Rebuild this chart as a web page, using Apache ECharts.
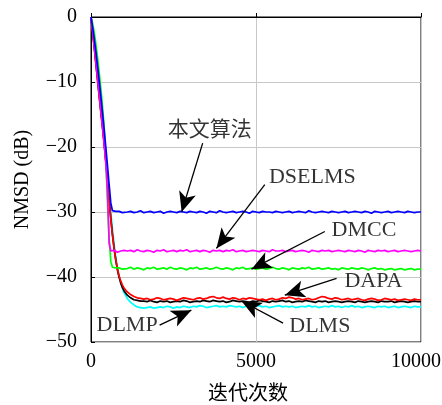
<!DOCTYPE html>
<html><head><meta charset="utf-8">
<script src="https://cdn.jsdelivr.net/npm/echarts@6/dist/echarts.min.js"></script>
<style>html,body{margin:0;padding:0;background:#fff}#c{width:442px;height:405px}</style>
</head><body><div id="c"></div>
<script>
var iters = [0,50,100,150,200,250,300,350,400,450,500,550,600,650,700,750,800,850,900,950,1000,
1100,1200,1300,1400,1500,1600,1700,1800,1900,2000,2100,2200,2300,2400,2500,2600,2700,2800,2900,3000,
3100,3200,3300,3400,3500,3600,3700,3800,3900,4000,4100,4200,4300,4400,4500,4600,4700,4800,4900,5000,
5100,5200,5300,5400,5500,5600,5700,5800,5900,6000,6100,6200,6300,6400,6500,6600,6700,6800,6900,7000,
7100,7200,7300,7400,7500,7600,7700,7800,7900,8000,8100,8200,8300,8400,8500,8600,8700,8800,8900,9000,
9100,9200,9300,9400,9500,9600,9700,9800,9900,10000];

var proposed = [0,-1.6,-3.4,-5.4,-7.6,-9.9,-12.3,-14.8,-17.4,-20.1,-22.9,-25.8,-28.6,-29.8,-30.0,-29.9,-30.1,-29.9,-30.0,-30.1,-29.9,
-30.0,-29.9,-30.1,-30.0,-29.8,-30.1,-30.0,-29.9,-30.1,-30.0,
-29.9,-30.2,-30.0,-29.9,-30.0,-30.1,-29.9,-30.0,-30.1,-29.9,
-30.0,-30.1,-29.9,-30.0,-30.2,-29.9,-30.0,-30.1,-29.8,-30.0,
-30.1,-30.0,-29.9,-30.1,-30.0,-29.9,-30.0,-30.2,-29.9,-30.0,
-30.1,-29.9,-30.0,-30.0,-30.1,-29.9,-30.0,-30.1,-30.0,-29.9,
-30.1,-30.0,-29.9,-30.0,-30.1,-29.8,-30.0,-30.1,-30.0,-29.9,
-30.0,-30.1,-29.9,-30.0,-30.1,-30.0,-29.9,-30.1,-30.0,-29.9,
-30.0,-30.1,-29.9,-30.0,-30.2,-29.9,-30.0,-30.1,-30.0,-29.9,
-30.1,-30.0,-29.9,-30.0,-30.1,-29.9,-30.0,-30.1,-30.0,-30.0];

var dselms = [0,-2.1,-4.4,-6.8,-9.3,-11.8,-14.3,-16.9,-19.5,-22.5,-27.0,-34.8,-36.0,-36.1,-35.9,-36.0,-36.2,-35.9,-36.0,-36.1,-35.9,
-36.0,-35.9,-36.1,-35.8,-36.0,-36.1,-35.9,-36.0,-36.2,-35.9,
-36.0,-35.8,-36.1,-36.0,-35.9,-36.1,-35.9,-36.0,-35.8,-36.1,
-36.0,-35.9,-36.1,-35.9,-36.0,-36.2,-35.9,-36.0,-35.9,-36.1,
-35.9,-36.0,-35.8,-36.1,-36.0,-35.9,-36.1,-36.0,-35.9,-36.0,
-36.1,-35.9,-36.0,-36.1,-35.8,-36.0,-36.0,-35.9,-36.1,-36.0,
-35.9,-36.1,-36.0,-35.9,-36.0,-36.2,-35.9,-36.0,-36.1,-35.9,
-36.0,-35.9,-36.1,-36.0,-35.9,-36.0,-36.1,-35.9,-36.0,-36.1,
-35.9,-36.0,-36.2,-35.9,-36.0,-36.1,-35.9,-36.0,-35.9,-36.1,
-36.0,-35.9,-36.1,-36.0,-35.9,-36.0,-36.1,-36.0,-35.9,-36.0];

var dmcc = [0,-1.0,-2.4,-4.2,-6.3,-8.6,-11.1,-13.8,-17.0,-22.0,-28.5,-34.0,-37.6,-38.5,-38.7,-38.6,-38.8,-38.6,-38.7,-38.8,-38.6,
-38.7,-38.5,-38.8,-38.6,-38.7,-38.9,-38.6,-38.7,-38.5,-38.8,
-38.7,-38.6,-38.8,-38.5,-38.7,-38.8,-38.6,-38.7,-38.9,-38.6,
-38.7,-38.5,-38.8,-38.7,-38.6,-38.8,-38.7,-38.5,-38.7,-38.8,
-38.6,-38.7,-38.9,-38.6,-38.7,-38.5,-38.8,-38.7,-38.6,-38.8,
-38.7,-38.6,-38.8,-38.7,-38.5,-38.7,-38.8,-38.6,-38.7,-38.9,
-38.6,-38.7,-38.8,-38.6,-38.7,-38.5,-38.8,-38.7,-38.6,-38.8,
-38.7,-38.6,-38.8,-38.7,-38.9,-38.6,-38.7,-38.8,-38.6,-38.7,
-38.8,-38.6,-38.7,-38.9,-38.7,-38.6,-38.8,-38.7,-38.9,-38.8,
-38.7,-38.9,-38.8,-38.7,-38.9,-38.8,-38.7,-38.9,-38.8,-38.8];

var dapa = [0,-2.4,-4.8,-7.3,-9.8,-12.3,-14.7,-17.1,-19.6,-22.3,-25.2,-28.3,-31.1,-33.5,-35.6,-37.3,-38.7,-39.8,-40.6,-41.2,-41.7,
-42.3,-42.7,-43.0,-43.2,-43.3,-43.4,-43.3,-43.5,-43.4,-43.2,
-43.3,-43.5,-43.4,-43.3,-43.4,-43.6,-43.4,-43.2,-43.3,-43.4,
-43.5,-43.3,-43.2,-43.4,-43.3,-43.1,-43.0,-43.2,-43.3,-43.1,
-43.3,-43.4,-43.2,-43.3,-43.5,-43.3,-43.4,-43.2,-43.3,-43.4,
-43.5,-43.4,-43.6,-43.4,-43.3,-43.5,-43.4,-43.2,-43.3,-43.1,
-43.2,-43.4,-43.3,-43.5,-43.4,-43.3,-43.5,-43.4,-43.2,-43.0,
-43.1,-43.3,-43.4,-43.2,-43.3,-43.5,-43.4,-43.3,-43.5,-43.4,
-43.3,-43.5,-43.6,-43.4,-43.3,-43.4,-43.6,-43.5,-43.3,-43.4,
-43.5,-43.4,-43.6,-43.5,-43.4,-43.5,-43.6,-43.4,-43.5,-43.5];

var dlms = [0,-2.3,-4.7,-7.2,-9.7,-12.2,-14.6,-17.0,-19.5,-22.2,-25.1,-28.2,-31.0,-33.5,-35.6,-37.4,-38.9,-40.0,-40.9,-41.6,-42.1,
-42.8,-43.2,-43.5,-43.6,-43.7,-43.7,-43.8,-43.6,-43.8,-43.9,
-43.7,-43.8,-43.7,-43.9,-43.8,-43.7,-43.8,-43.6,-43.7,-43.9,
-43.8,-43.7,-43.8,-43.6,-43.7,-43.8,-43.6,-43.7,-43.8,-43.7,
-43.9,-43.8,-43.6,-43.7,-43.8,-43.7,-43.8,-43.9,-43.7,-43.8,
-43.6,-43.7,-43.8,-43.9,-43.7,-43.8,-43.7,-43.6,-43.8,-43.7,
-43.9,-43.8,-43.7,-43.8,-43.6,-43.7,-43.8,-43.9,-43.7,-43.8,
-43.7,-43.9,-43.8,-43.7,-43.8,-43.9,-43.8,-43.7,-43.8,-43.9,
-43.7,-43.8,-43.9,-43.8,-43.7,-43.8,-43.9,-43.7,-43.8,-43.8,
-43.7,-43.9,-43.8,-43.7,-43.8,-43.9,-43.8,-43.7,-43.8,-43.8];

var dlmp = [0,-2.0,-4.2,-6.6,-9.0,-11.5,-14.0,-16.5,-19.0,-21.6,-24.3,-27.2,-30.0,-32.6,-34.9,-36.9,-38.6,-39.9,-40.9,-41.7,-42.4,
-43.3,-43.9,-44.3,-44.6,-44.7,-44.8,-44.7,-44.6,-44.8,-44.7,
-44.6,-44.7,-44.5,-44.6,-44.8,-44.6,-44.7,-44.5,-44.6,-44.7,
-44.5,-44.6,-44.4,-44.5,-44.7,-44.6,-44.5,-44.4,-44.6,-44.5,
-44.6,-44.4,-44.5,-44.6,-44.5,-44.7,-44.5,-44.4,-44.6,-44.5,
-44.4,-44.6,-44.5,-44.7,-44.6,-44.5,-44.4,-44.6,-44.5,-44.6,
-44.5,-44.7,-44.6,-44.5,-44.6,-44.4,-44.6,-44.5,-44.7,-44.6,
-44.5,-44.6,-44.4,-44.6,-44.5,-44.7,-44.5,-44.6,-44.4,-44.6,
-44.5,-44.7,-44.6,-44.5,-44.6,-44.7,-44.5,-44.6,-44.5,-44.7,
-44.6,-44.5,-44.7,-44.6,-44.5,-44.6,-44.7,-44.5,-44.6,-44.6];

var xTicks = [0, 5000, 10000];
var yTicks = [0, -10, -20, -30, -40, -50];

// annotations: label text, label position, arrow start, arrow tip (data coords)
var annText  = ['本文算法', 'DSELMS', 'DMCC', 'DAPA', 'DLMS', 'DLMP'];
var annPos   = [[3596,-17.4],[6707,-24.6],[8270,-32.8],[8558,-40.6],[6935,-47.6],[1093,-47.4]];
var arrFrom  = [[3384,-19.4],[5266,-25.8],[7086,-33.0],[7442,-40.2],[5821,-47.1],[2079,-47.4]];
var arrTo    = [[2747,-30.0],[3800,-35.6],[4862,-38.8],[5873,-42.8],[4558,-43.7],[3041,-45.1]];

var FONT = "'Liberation Serif','Noto Sans CJK SC',serif";

function pairs(ys){ return iters.map(function(x,i){ return [x, ys[i]]; }); }

var chart = echarts.init(document.getElementById('c'), null, {renderer:'canvas'});

var lineDefs = [
  {name:'DLMP', data: dlmp, color:'#00ffff'},
  {name:'DLMS', data: dlms, color:'#000000'},
  {name:'DAPA', data: dapa, color:'#ff0000'},
  {name:'DMCC', data: dmcc, color:'#00ff00'},
  {name:'DSELMS', data: dselms, color:'#ff00ff'},
  {name:'本文算法', data: proposed, color:'#0000ff'}
];

var series = lineDefs.map(function(d){
  return {name:d.name, type:'line', data:pairs(d.data), showSymbol:false, symbol:'none',
    lineStyle:{color:d.color, width:1.7}, itemStyle:{color:d.color}, silent:true, z:2};
});

series.push({
  type:'scatter', name:'ann', symbolSize:0, silent:true, z:5,
  data: annText.map(function(t,i){
    return {value:[annPos[i][0], annPos[i][1]],
      label:{show:true, position:'inside', formatter:t, color:'#000',
        fontFamily:FONT, fontSize: i===0 ? 21 : 22}};
  }),
  markLine:{
    silent:true, animation:false, symbol:['none','arrow'], symbolSize:[13,20],
    label:{show:false},
    lineStyle:{color:'#000', width:1.3, type:'solid'},
    itemStyle:{color:'#000'},
    data: arrFrom.map(function(p,i){
      return [{coord:p},{coord:arrTo[i]}];
    })
  }
});

chart.setOption({
  animation:false,
  backgroundColor:'#fff',
  grid:{left:91, right:21, top:17, bottom:63, show:true, borderColor:'#000', borderWidth:1,
        containLabel:false, outerBoundsMode:'none'},
  xAxis:{type:'value', min:0, max:10000, interval:5000,
    axisLine:{show:true, lineStyle:{color:'#000', width:1}},
    axisTick:{show:true, inside:true, length:4, lineStyle:{color:'#000'}},
    splitLine:{show:true, lineStyle:{color:'#c8c8c8', width:1}},
    axisLabel:{fontFamily:FONT, fontSize:20, color:'#000', margin:10,
      formatter:function(v){ return v===xTicks[2] ? '{r|'+v+'}' : String(v); },
      rich:{r:{fontFamily:FONT, fontSize:20, color:'#000', padding:[0,10,0,0]}}},
    name:'迭代次数', nameLocation:'middle', nameGap:43,
    nameTextStyle:{fontFamily:FONT, fontSize:20, color:'#000', padding:[0,16,0,0]}
  },
  yAxis:{type:'value', min:-50, max:0, interval:10,
    axisLine:{show:true, lineStyle:{color:'#000', width:1}},
    axisTick:{show:true, inside:true, length:4, lineStyle:{color:'#000'}},
    splitLine:{show:true, lineStyle:{color:'#c8c8c8', width:1}},
    axisLabel:{fontFamily:FONT, fontSize:20, color:'#000', margin:14,
      formatter:function(v){ return String(v).replace('-', '\u2212'); }},
    name:'NMSD (dB)', nameLocation:'middle', nameGap:58,
    nameTextStyle:{fontFamily:FONT, fontSize:20, color:'#000'}
  },
  series:series
});
</script></body></html>
